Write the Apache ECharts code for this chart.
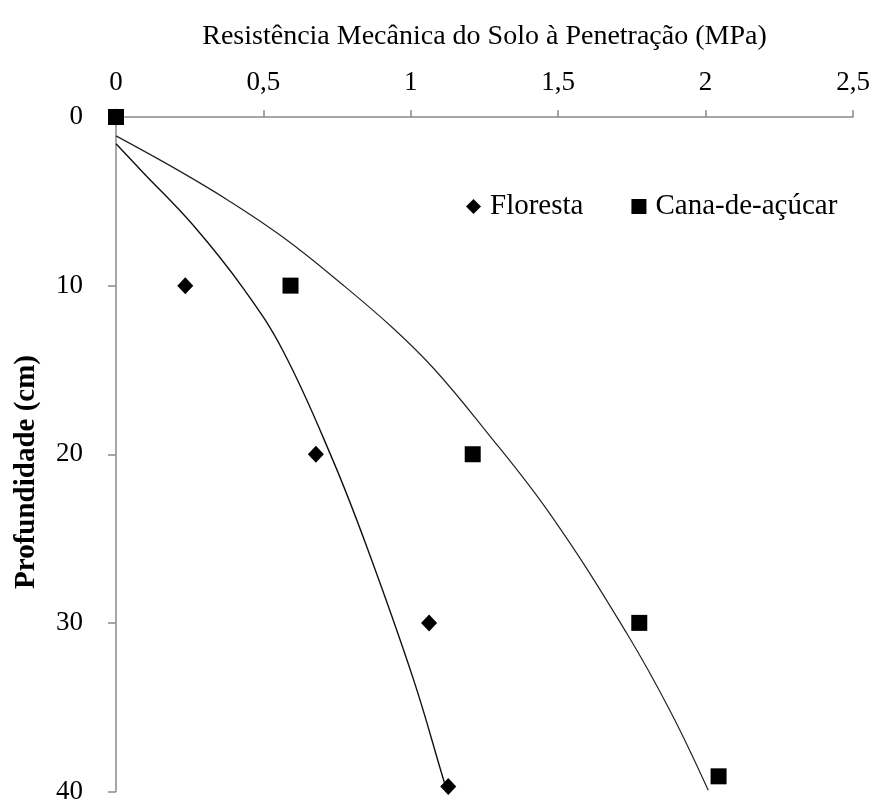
<!DOCTYPE html>
<html><head><meta charset="utf-8">
<script src="https://cdn.jsdelivr.net/npm/echarts@6/dist/echarts.min.js"></script>
<style>html,body{margin:0;padding:0;background:#fff}#c{width:877px;height:805px}</style>
</head><body><div id="c"></div>
<script>
var florestaPts = [[0,0],[0.235,10],[0.678,20],[1.062,30],[1.127,39.7]];
var canaPts = [[0,0],[0.592,10],[1.21,20],[1.775,30],[2.044,39.1]];
var florestaCurve = [[0,1.59],[0.0925,3.3],[0.259,6.36],[0.433,10.19],[0.568,13.92],[0.732,20.2],[0.851,25.5],[1.009,33.35],[1.11,39.24],[1.12,39.8]];
var canaCurve = [[0,1.12],[0.207,3.12],[0.376,4.89],[0.568,7.15],[0.772,9.99],[0.941,12.54],[1.077,14.9],[1.246,18.43],[1.472,23.54],[1.732,30.6],[1.882,35.3],[2.009,39.93]];
var xTicks = {min:0,max:2.5,interval:0.5};
var yTicks = {min:0,max:40,interval:10};
var seriesNames = ['Floresta','Cana-de-açúcar'];

var font = '"Liberation Serif","DejaVu Serif",serif';
var chart = echarts.init(document.getElementById('c'));
chart.setOption({
  animation:false,
  grid:{left:116,right:24,top:117,bottom:9},
  legend:{data:[{name:seriesNames[0],icon:'diamond'},{name:seriesNames[1],icon:'rect'}],
    left:461,top:187,itemWidth:15,itemHeight:15,itemGap:48,
    textStyle:{fontFamily:font,fontSize:29,color:'#000',padding:[0,0,0,4]}},
  xAxis:{type:'value',position:'top',min:xTicks.min,max:xTicks.max,interval:xTicks.interval,
    name:'Resistência Mecânica do Solo à Penetração (MPa)',nameLocation:'middle',nameGap:66,
    nameTextStyle:{fontFamily:font,fontSize:28,color:'#000'},
    axisLine:{lineStyle:{color:'#898989',width:1.5}},
    axisTick:{show:true,inside:false,length:7,lineStyle:{color:'#898989',width:1.5}},
    axisLabel:{fontFamily:font,fontSize:27,color:'#000',margin:21,
      formatter:function(v){return String(v).replace('.',',');}},
    splitLine:{show:false}},
  yAxis:{type:'value',inverse:true,min:yTicks.min,max:yTicks.max,interval:yTicks.interval,
    axisLine:{show:true,lineStyle:{color:'#898989',width:1.5}},
    axisTick:{show:true,inside:false,length:8,lineStyle:{color:'#898989',width:1.5}},
    axisLabel:{fontFamily:font,fontSize:27,color:'#000',margin:33},
    splitLine:{show:false}},
  graphic:[{type:'text',left:12,top:355,rotation:Math.PI/2,
    style:{text:'Profundidade (cm)',font:'bold 29px '+font,fill:'#000'}}],
  series:[
    {type:'line',data:florestaCurve,smooth:0.4,showSymbol:false,lineStyle:{color:'#111',width:1.4},silent:true,z:2},
    {type:'line',data:canaCurve,smooth:0.4,showSymbol:false,lineStyle:{color:'#222',width:1.2},silent:true,z:2},
    {name:seriesNames[0],type:'scatter',data:florestaPts,symbol:'diamond',symbolSize:[16,17],itemStyle:{color:'#000',opacity:1},z:3},
    {name:seriesNames[1],type:'scatter',data:canaPts,symbol:'rect',symbolSize:16,itemStyle:{color:'#000',opacity:1},z:4}
  ]
});
</script></body></html>
